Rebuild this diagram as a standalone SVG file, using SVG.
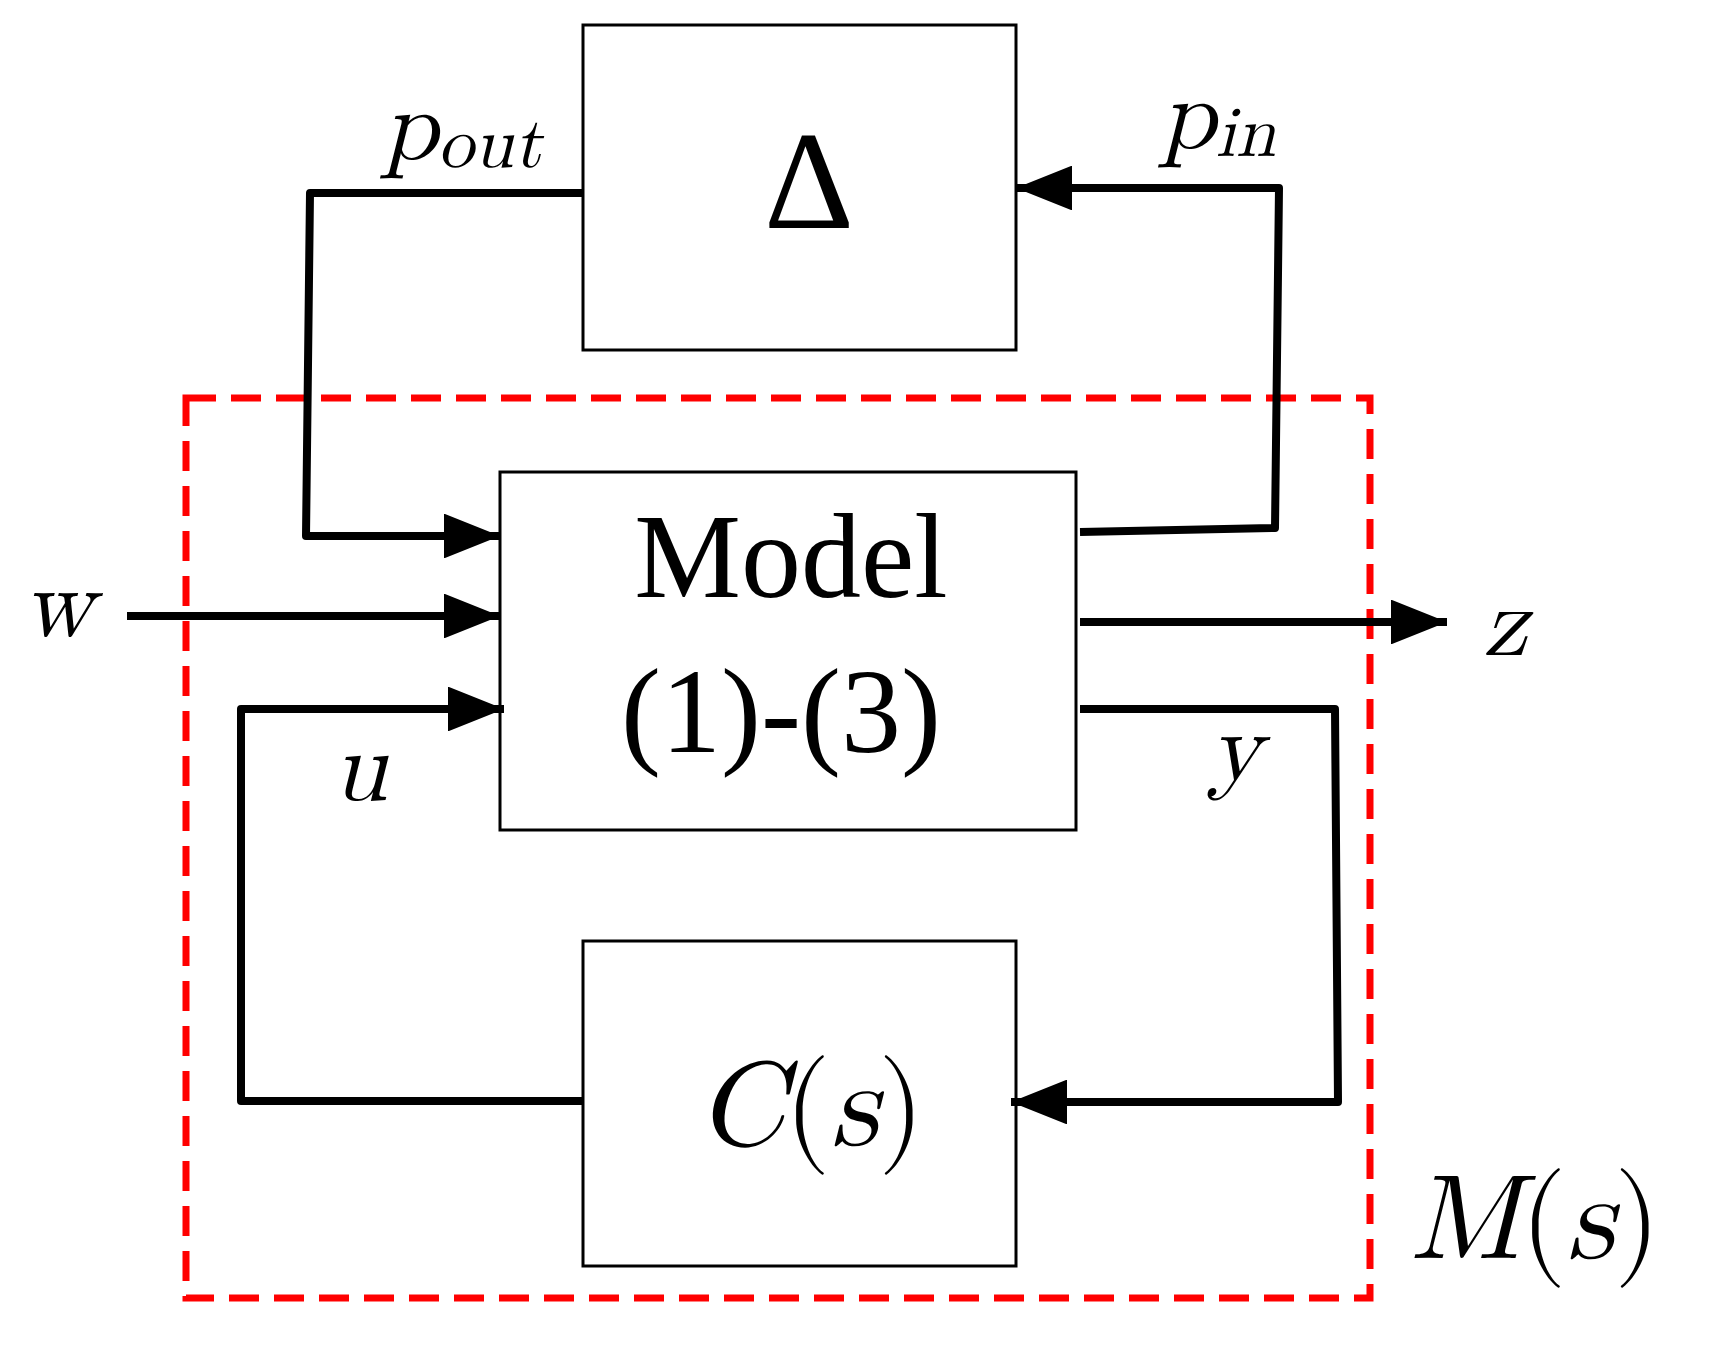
<svg xmlns="http://www.w3.org/2000/svg" width="1710" height="1346" viewBox="0 0 1710 1346">
<style>
.box{fill:#fff;stroke:#000;stroke-width:3}
.w{fill:none;stroke:#000;stroke-width:8;stroke-linejoin:round}
.m{font-family:"Latin Modern Math","DejaVu Serif","Liberation Serif",serif;font-style:italic;fill:#000}
.r{font-family:"Liberation Serif",serif;fill:#000}
</style>
<defs>
<marker id="ah" viewBox="0 0 10 8" refX="10" refY="4" markerWidth="7" markerHeight="5.6" markerUnits="strokeWidth" orient="auto"><path d="M0,0 L10,4 L0,8 z" fill="#000"/></marker>
</defs>
<rect width="1710" height="1346" fill="#fff"/>
<g id="Mbox"><rect x="186" y="398" width="1184" height="900" fill="none" stroke="#f00" stroke-width="7" stroke-dasharray="30,15"/>
<text class="m" x="1410" y="1258" font-size="120">M<tspan font-style="normal">(</tspan>s<tspan font-style="normal">)</tspan></text></g>
<g id="delta"><rect class="box" x="583" y="25" width="433" height="325"/><text class="r" x="809" y="228" font-size="140" text-anchor="middle">Δ</text></g>
<g id="model"><rect class="box" x="500" y="472" width="576" height="358"/>
<text class="r" x="791" y="597" font-size="120" text-anchor="middle">Model</text>
<text class="r" x="781" y="752" font-size="120" text-anchor="middle">(1)-(3)</text></g>
<g id="C"><rect class="box" x="583" y="941" width="433" height="325"/>
<text class="m" x="811" y="1145" font-size="120" text-anchor="middle">C<tspan font-style="normal">(</tspan>s<tspan font-style="normal">)</tspan></text></g>
<g id="connectors">
<polyline class="w" points="583,193 310,193 306,536 500,536" marker-end="url(#ah)"/>
<polyline class="w" points="1080,532 1275,528 1279,188 1016,188" marker-end="url(#ah)"/>
<line class="w" x1="127" y1="616" x2="500" y2="616" marker-end="url(#ah)"/>
<line class="w" x1="1080" y1="622" x2="1447" y2="622" marker-end="url(#ah)"/>
<polyline class="w" points="583,1101 241,1101 241,709 504,709" marker-end="url(#ah)"/>
<polyline class="w" points="1080,709 1335,709 1338,1102 1011,1102" marker-end="url(#ah)"/>
</g>
<g id="labels">
<text class="m" x="382" y="159" font-size="100">p<tspan font-size="72" dy="8">out</tspan></text>
<text class="m" x="1160" y="148" font-size="100">p<tspan font-size="72" dy="8">in</tspan></text>
<text class="m" x="22" y="636" font-size="100">w</text>
<text class="m" x="1483" y="655" font-size="100">z</text>
<text class="m" x="332" y="800" font-size="100">u</text>
<text class="m" x="1209" y="780" font-size="100">y</text>
</g>
</svg>
